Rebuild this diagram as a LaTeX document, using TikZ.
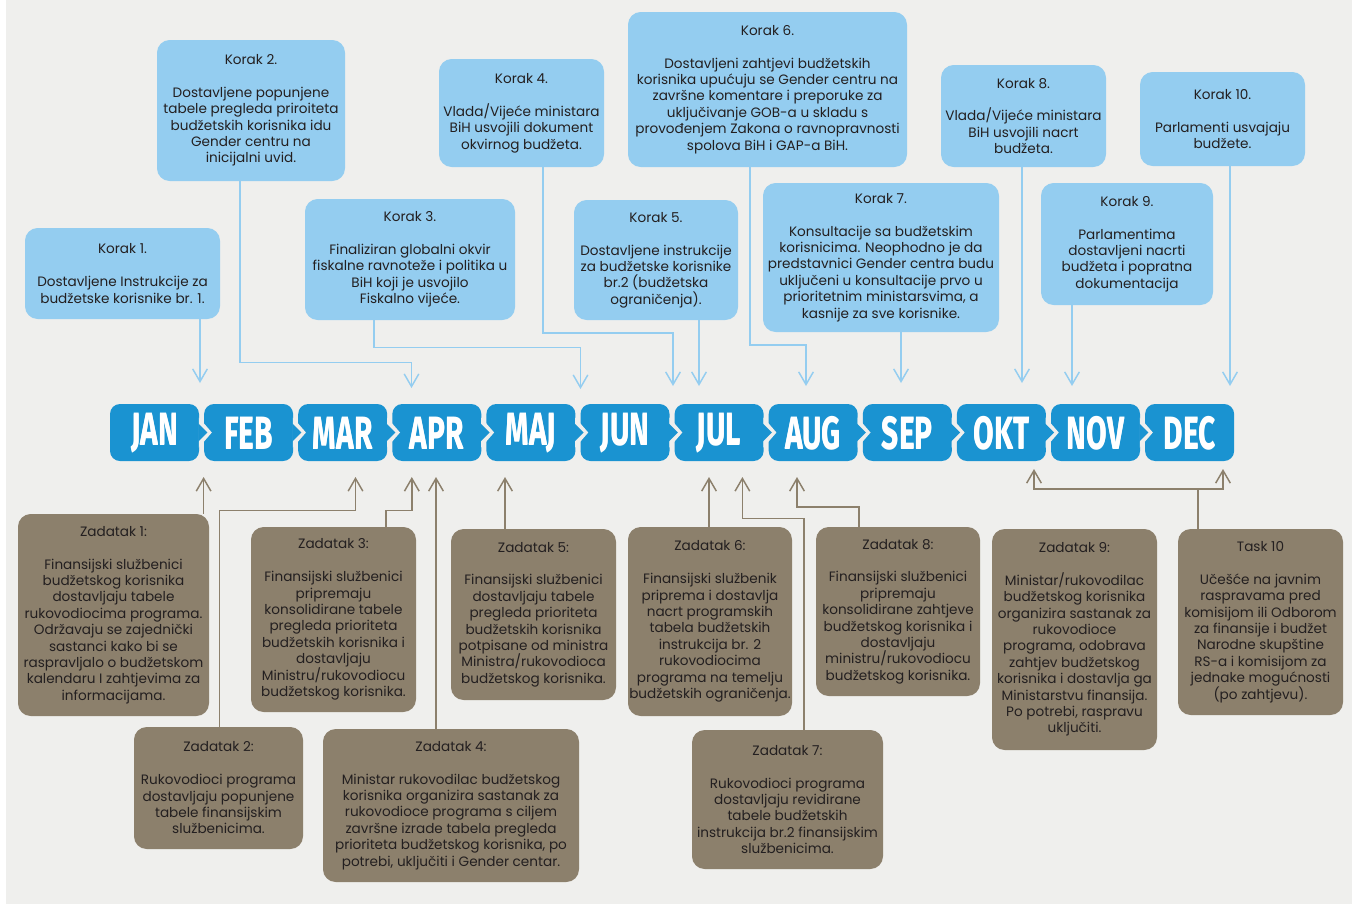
\documentclass[tikz,border=0pt]{standalone}
\usepackage{fontspec}
\setmainfont{Poppins}
\newfontfamily\monthfont[FakeStretch=0.66]{Fira Sans}
\usetikzlibrary{arrows.meta,calc}
\definecolor{bg}{HTML}{EFEFED}
\definecolor{kfill}{HTML}{94CDF0}
\definecolor{tabc}{HTML}{1A93D1}
\definecolor{zfill}{HTML}{8C806C}
\definecolor{txt}{HTML}{231F20}
\tikzset{
  box/.style={rounded corners=9.5pt, inner sep=0pt, align=center, text=txt,
    font=\fontsize{10.2pt}{12.3pt}\selectfont},
  kbox/.style={box, fill=kfill},
  zbox/.style={box, fill=zfill},
  monthtab/.style={fill=tabc, rounded corners=7.5pt, minimum width=66.75pt,
    minimum height=42.75pt, inner sep=0pt, text=white,
    font=\monthfont\bfseries\fontsize{34pt}{34pt}\selectfont},
  karrow/.style={draw=kfill, line width=1.1pt,
    -{Straight Barb[length=9.5pt,width=11pt]}},
  zarrow/.style={draw=zfill, line width=1.1pt,
    -{Straight Barb[length=9.5pt,width=11pt]}}
}
\newcommand{\mkbox}[7]{\node[#1, minimum width={(#4-#2)*0.75pt}, minimum height={(#5-#3)*0.75pt}] (#6) at ({(#2+#4)/2},{(#3+#5)/2}) {#7};}
\begin{document}
\begin{tikzpicture}[x=0.75pt,y=-0.75pt]
\useasboundingbox (0,0) rectangle (1352,904);
\fill[white] (0,0) rectangle (1352,904);
\fill[bg] (6,0) rectangle (1352,904);

% month tabs
\foreach \m [count=\i from 0] in {JAN,FEB,MAR,APR,MAJ,JUN,JUL,AUG,SEP,OKT,NOV,DEC}{
  \node[monthtab] (m\i) at ({154.5+94.1*\i},432.5) {\m};
}
\foreach \i in {1,...,11}{
  \fill[bg] ($(m\i.west)+(-5,-15)$) -- ++(13,15) -- ++(-13,15) -- cycle;
}
\foreach \i in {0,...,10}{
  \fill[tabc] ($(m\i.east)+(-1,-9)$) -- ++(9,9) -- ++(-9,9) -- cycle;
}
\foreach \m [count=\i from 0] in {JAN,FEB,MAR,APR,MAJ,JUN,JUL,AUG,SEP,OKT,NOV,DEC}{
  \node[monthtab, fill=none] at ($(m\i)+(0,1)$) {\m};
}

% top boxes
\mkbox{kbox}{25}{228}{220}{319}{k1}{Korak 1.\\[12.3pt]Dostavljene Instrukcije za\\budžetske korisnike br. 1.}
\mkbox{kbox}{157}{40}{345}{181}{k2}{Korak 2.\\[12.3pt]Dostavljene popunjene\\tabele pregleda priroiteta\\budžetskih korisnika idu\\Gender centru na\\inicijalni uvid.}
\mkbox{kbox}{305}{199}{515}{320}{k3}{Korak 3.\\[12.3pt]Finaliziran globalni okvir\\fiskalne ravnoteže i politika u\\BiH koji je usvojilo\\Fiskalno vijeće.}
\mkbox{kbox}{439}{59}{604}{167}{k4}{Korak 4.\\[12.3pt]Vlada/Vijeće ministara\\BiH usvojili dokument\\okvirnog budžeta.}
\mkbox{kbox}{574}{200}{738}{320}{k5}{Korak 5.\\[12.3pt]Dostavljene instrukcije\\za budžetske korisnike\\br.2 (budžetska\\ograničenja).}
\mkbox{kbox}{628}{12}{907}{167}{k6}{Korak 6.\\[12.3pt]Dostavljeni zahtjevi budžetskih\\korisnika upućuju se Gender centru na\\završne komentare i preporuke za\\uključivanje GOB-a u skladu s\\provođenjem Zakona o ravnopravnosti\\spolova BiH i GAP-a BiH.}
\mkbox{kbox}{763}{183}{999}{332}{k7}{Korak 7.\\[12.3pt]Konsultacije sa budžetskim\\korisnicima. Neophodno je da\\predstavnici Gender centra budu\\uključeni u konsultacije prvo u\\prioritetnim ministarsvima, a\\kasnije za sve korisnike.}
\mkbox{kbox}{941}{65}{1106}{167}{k8}{Korak 8.\\[12.3pt]Vlada/Vijeće ministara\\BiH usvojili nacrt\\budžeta.}
\mkbox{kbox}{1041}{183}{1213}{305}{k9}{Korak 9.\\[12.3pt]Parlamentima\\dostavljeni nacrti\\budžeta i popratna\\dokumentacija}
\mkbox{kbox}{1140}{72}{1305}{166}{k10}{Korak 10.\\[12.3pt]Parlamenti usvajaju\\budžete.}

% bottom boxes
\mkbox{zbox}{18}{514}{209}{716}{z1}{Zadatak 1:\\[12.3pt]Finansijski službenici\\budžetskog korisnika\\dostavljaju tabele\\rukovodiocima programa.\\Održavaju se zajednički\\sastanci kako bi se\\raspravljalo o budžetskom\\kalendaru I zahtjevima za\\informacijama.}
\mkbox{zbox}{134}{727}{303}{849}{z2}{Zadatak 2:\\[12.3pt]Rukovodioci programa\\dostavljaju popunjene\\tabele finansijskim\\službenicima.}
\mkbox{zbox}{251}{527}{416}{712}{z3}{Zadatak 3:\\[12.3pt]Finansijski službenici\\pripremaju\\konsolidirane tabele\\pregleda prioriteta\\budžetskih korisnika i\\dostavljaju\\Ministru/rukovodiocu\\budžetskog korisnika.}
\mkbox{zbox}{323}{729}{579}{882}{z4}{Zadatak 4:\\[12.3pt]Ministar rukovodilac budžetskog\\korisnika organizira sastanak za\\rukovodioce programa s ciljem\\završne izrade tabela pregleda\\prioriteta budžetskog korisnika, po\\potrebi, uključiti i Gender centar.}
\mkbox{zbox}{451}{529}{616}{700}{z5}{Zadatak 5:\\[12.3pt]Finansijski službenici\\dostavljaju tabele\\pregleda prioriteta\\budžetskih korisnika\\potpisane od ministra\\Ministra/rukovodioca\\budžetskog korisnika.}
\mkbox{zbox}{628}{527}{792}{716}{z6}{Zadatak 6:\\[12.3pt]Finansijski službenik\\priprema i dostavlja\\nacrt programskih\\tabela budžetskih\\instrukcija br. 2\\rukovodiocima\\programa na temelju\\budžetskih ograničenja.}
\mkbox{zbox}{692}{730}{883}{869}{z7}{Zadatak 7:\\[12.3pt]Rukovodioci programa\\dostavljaju revidirane\\tabele budžetskih\\instrukcija br.2 finansijskim\\službenicima.}
\mkbox{zbox}{816}{527}{980}{696}{z8}{Zadatak 8:\\[12.3pt]Finansijski službenici\\pripremaju\\konsolidirane zahtjeve\\budžetskog korisnika i\\dostavljaju\\ministru/rukovodiocu\\budžetskog korisnika.}
\mkbox{zbox}{992}{529}{1157}{750}{z9}{Zadatak 9:\\[12.3pt]Ministar/rukovodilac\\budžetskog korisnika\\organizira sastanak za\\rukovodioce\\programa, odobrava\\zahtjev budžetskog\\korisnika i dostavlja ga\\Ministarstvu finansija.\\Po potrebi, raspravu\\uključiti.}
\mkbox{zbox}{1178}{529}{1343}{715}{z10}{Task 10\\[12.3pt]Učešće na javnim\\raspravama pred\\komisijom ili Odborom\\za finansije i budžet\\Narodne skupštine\\RS-a i komisijom za\\jednake mogućnosti\\(po zahtjevu).}

% top connector coordinates
\coordinate (t1) at (200,383);
\coordinate (b2) at (240,362.7);  \coordinate (t2) at (411.5,388);
\coordinate (b3) at (374,347.7);  \coordinate (t3) at (580.5,389);
\coordinate (b4) at (543,333);    \coordinate (t4) at (673,386);
\coordinate (t5) at (699,386);
\coordinate (b6) at (750,345);    \coordinate (t6) at (806,386);
\coordinate (t7) at (901,383);
\coordinate (t8) at (1022,383);
\coordinate (t9) at (1072,386);
\coordinate (t10) at (1230,386);

\draw[karrow] (t1 |- k1.south) -- (t1);
\draw[karrow] (b2 |- k2.south) -- (b2) -| (t2);
\draw[karrow] (b3 |- k3.south) -- (b3) -| (t3);
\draw[karrow] (b4 |- k4.south) -- (b4) -| (t4);
\draw[karrow] (t5 |- k5.south) -- (t5);
\draw[karrow] (b6 |- k6.south) -- (b6) -| (t6);
\draw[karrow] (t7 |- k7.south) -- (t7);
\draw[karrow] (t8 |- k8.south) -- (t8);
\draw[karrow] (t9 |- k9.south) -- (t9);
\draw[karrow] (t10 |- k10.south) -- (t10);

% bottom connector coordinates
\coordinate (u1) at (203.6,477);
\coordinate (c2) at (219.7,510.7); \coordinate (u2) at (355.5,477);
\coordinate (c3) at (386,510.7);   \coordinate (u3) at (411.8,477);
\coordinate (u4) at (436,477);
\coordinate (u5) at (505,477);
\coordinate (u6) at (709,477);
\coordinate (c7) at (804,518.5);   \coordinate (u7) at (742.4,477);
\coordinate (c8) at (859,507);     \coordinate (u8) at (797,477);
\coordinate (c10) at (1198,489);   \coordinate (u9) at (1034,469);
\coordinate (u10) at (1223,469);

\draw[zarrow] (u1 |- z1.north) -- (u1);
\draw[zarrow] (c2 |- z2.north) -- (c2) -| (u2);
\draw[zarrow] (c3 |- z3.north) -- (c3) -| (u3);
\draw[zarrow] (u4 |- z4.north) -- (u4);
\draw[zarrow] (u5 |- z5.north) -- (u5);
\draw[zarrow] (u6 |- z6.north) -- (u6);
\draw[zarrow] (c7 |- z7.north) -- (c7) -| (u7);
\draw[zarrow] (c8 |- z8.north) -- (c8) -| (u8);
\draw[zarrow] (c10 |- z10.north) -- (c10) -| (u9);
\draw[zarrow] (c10) -| (u10);
\end{tikzpicture}
\end{document}
